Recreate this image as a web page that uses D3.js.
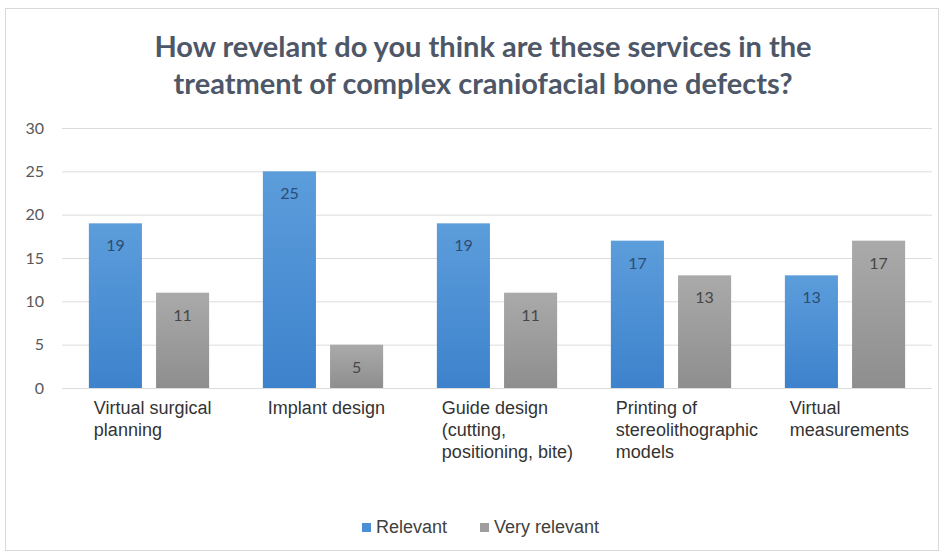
<!DOCTYPE html>
<html>
<head>
<meta charset="utf-8">
<script src="https://cdn.jsdelivr.net/npm/d3@7"></script>
<style>
  body { margin: 0; background: #fff; }
  svg { display: block; }
</style>
</head>
<body>
<svg id="chart" width="945" height="556"></svg>
<script>
// data
var categories = [
  ["Virtual surgical", "planning"],
  ["Implant design"],
  ["Guide design", "(cutting,", "positioning, bite)"],
  ["Printing of", "stereolithographic", "models"],
  ["Virtual", "measurements"]
];
var seriesNames = ["Relevant", "Very relevant"];
var relevant = [19, 25, 19, 17, 13];
var veryRelevant = [11, 5, 11, 13, 17];
var yTicks = [0, 5, 10, 15, 20, 25, 30];
var titleLines = ["How revelant do you think are these services in the",
                  "treatment of complex craniofacial bone defects?"];

var svg = d3.select("#chart");
var margin = {left: 62, right: 13, top: 128, bottom: 168};
var W = 945, H = 556;

// outer frame
svg.append("rect")
  .attr("x", 5.5).attr("y", 8.5)
  .attr("width", 933).attr("height", 542)
  .attr("fill", "#fff")
  .attr("stroke", "#d9d9d9");

// gradients for the bars
var defs = svg.append("defs");
function grad(id, top, bottom) {
  var g = defs.append("linearGradient").attr("id", id)
    .attr("x1", 0).attr("y1", 0).attr("x2", 0).attr("y2", 1);
  g.append("stop").attr("offset", "0%").attr("stop-color", top);
  g.append("stop").attr("offset", "100%").attr("stop-color", bottom);
}
grad("gBlue", "#5c9ddb", "#3d82cc");
grad("gGray", "#aaaaaa", "#8e8e8e");
var fills = ["url(#gBlue)", "url(#gGray)"];
var labelColors = ["#2d4d74", "#474747"];

var x0 = d3.scaleBand()
  .domain(d3.range(categories.length))
  .range([margin.left, W - margin.right]);

var x1 = d3.scaleBand()
  .domain(d3.range(seriesNames.length))
  .range([0, x0.bandwidth()])
  .paddingInner(0.21)
  .paddingOuter(0.4);

var y = d3.scaleLinear()
  .domain([0, 30])
  .range([H - margin.bottom, margin.top]);

// title
svg.append("g").selectAll("text")
  .data(titleLines)
  .enter().append("text")
    .attr("x", 483)
    .attr("y", (d, i) => 57 + i * 37)
    .attr("text-anchor", "middle")
    .attr("font-family", "Lato, sans-serif")
    .attr("font-weight", 700)
    .attr("font-size", 29)
    .attr("fill", "#4d5768")
    .text(d => d);

// grid lines + y labels
var yAxis = d3.axisLeft(y).tickValues(yTicks).tickSize(-(W - margin.left - margin.right)).tickPadding(18);
var gy = svg.append("g")
  .attr("transform", "translate(" + margin.left + ",0)")
  .call(yAxis);
gy.select(".domain").remove();
gy.selectAll(".tick line").attr("stroke", "#dcdcdc");
gy.selectAll(".tick text")
  .attr("font-family", "Lato, sans-serif")
  .attr("font-size", 16)
  .attr("fill", "#595959");

// bars
var series = [relevant, veryRelevant];
var groups = svg.append("g").selectAll("g")
  .data(categories.map((c, i) => i))
  .enter().append("g")
    .attr("transform", d => "translate(" + x0(d) + ",0)");

groups.selectAll("rect")
  .data(i => series.map((s, k) => ({k: k, v: s[i]})))
  .enter().append("rect")
    .attr("x", d => x1(d.k))
    .attr("y", d => y(d.v))
    .attr("width", x1.bandwidth())
    .attr("height", d => y(0) - y(d.v))
    .attr("fill", d => fills[d.k]);

groups.selectAll("text.val")
  .data(i => series.map((s, k) => ({k: k, v: s[i]})))
  .enter().append("text")
    .attr("class", "val")
    .attr("x", d => x1(d.k) + x1.bandwidth() / 2)
    .attr("y", d => y(d.v) + 28)
    .attr("text-anchor", "middle")
    .attr("font-family", "Lato, sans-serif")
    .attr("font-size", 16)
    .attr("fill", d => labelColors[d.k])
    .text(d => d.v);

// category labels
groups.append("text")
  .attr("font-family", "Liberation Sans, Arial, sans-serif")
  .attr("font-size", 18)
  .attr("fill", "#333")
  .selectAll("tspan")
  .data(i => categories[i])
  .enter().append("tspan")
    .attr("x", x1(0) + 5)
    .attr("y", (d, j) => y(0) + 26 + j * 22)
    .text(d => d);

// legend
var legendX = [362, 480];
var leg = svg.append("g").selectAll("g")
  .data(seriesNames)
  .enter().append("g")
    .attr("transform", (d, i) => "translate(" + legendX[i] + ",0)");
leg.append("rect")
  .attr("x", 0).attr("y", 523)
  .attr("width", 9).attr("height", 9)
  .attr("fill", (d, i) => i === 0 ? "#4a8ed3" : "#9e9e9e");
leg.append("text")
  .attr("x", 14).attr("y", 533)
  .attr("font-family", "Liberation Sans, Arial, sans-serif")
  .attr("font-size", 18)
  .attr("fill", "#404040")
  .text(d => d);
</script>
</body>
</html>
